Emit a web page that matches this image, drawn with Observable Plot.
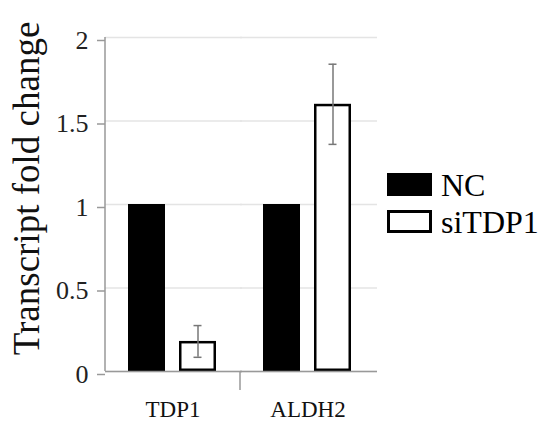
<!DOCTYPE html>
<html><head><meta charset="utf-8">
<script src="https://cdn.jsdelivr.net/npm/d3@7"></script>
<script src="https://cdn.jsdelivr.net/npm/@observablehq/plot@0.6"></script>
<style>
body{margin:0;background:#fff;}
#wrap{position:relative;width:542px;height:421px;font-family:"Liberation Serif","Times New Roman",serif;}
#legend{position:absolute;left:387px;top:166px;}
.row{display:flex;align-items:center;height:37px;}
.sw{width:45px;height:23px;box-sizing:border-box;margin-right:9px;}
.lab{font-size:32px;line-height:1;color:#000;}
</style></head><body><div id="wrap"></div>
<script>
const genes = ["TDP1", "ALDH2"];
const conditions = ["NC", "siTDP1"];
const ncValues = [1, 1];
const siValues = [0.18, 1.6];
const ncErrors = [0, 0];
const siErrors = [0.095, 0.24];
const yTicks = [0, 0.5, 1, 1.5, 2];
const yTickLabels = ["0", "0.5", "1", "1.5", "2"];
const yLabel = "Transcript fold change";
const condColors = ["#000000", "#ffffff"];

const data = [];
genes.forEach((g, i) => {
  data.push({gene: g, cond: conditions[0], value: ncValues[i], err: ncErrors[i]});
  data.push({gene: g, cond: conditions[1], value: siValues[i], err: siErrors[i]});
});
const errData = data.filter(d => d.err > 0);

const font = '"Liberation Serif","Times New Roman",serif';
const plot = Plot.plot({
  width: 542, height: 421,
  marginLeft: 105, marginRight: 167, marginTop: 37, marginBottom: 50,
  style: {fontFamily: font, background: "white", color: "#000"},
  fx: {domain: genes, padding: 0, label: null, axis: null},
  x: {domain: conditions, paddingInner: 0.2745, paddingOuter: 0.46, axis: null},
  y: {domain: [0, 2], axis: null},
  color: {domain: conditions, range: condColors},
  marks: [
    Plot.gridY(yTicks, {stroke: "#e4e4e4", strokeOpacity: 1, strokeWidth: 1.5, insetRight: -2}),
    Plot.barY(data, {fx: "gene", x: "cond", y: "value", fill: "cond", stroke: "#000", strokeWidth: 2.5, inset: 1.25}),
    Plot.ruleX(errData, {fx: "gene", x: "cond", y1: d => d.value - d.err, y2: d => d.value + d.err, stroke: "#777", strokeWidth: 1.5}),
    Plot.tickY(errData, {fx: "gene", x: "cond", y: d => d.value + d.err, stroke: "#777", strokeWidth: 1.5, insetLeft: 14.5, insetRight: 14.5}),
    Plot.tickY(errData, {fx: "gene", x: "cond", y: d => d.value - d.err, stroke: "#777", strokeWidth: 1.5, insetLeft: 14.5, insetRight: 14.5}),
    Plot.ruleY([0], {stroke: "#999", strokeWidth: 1.5, insetRight: -2}),
    Plot.axisY(yTicks, {tickFormat: d => yTickLabels[yTicks.indexOf(d)], fontSize: 26, tickSize: 8, tickPadding: 9, stroke: "#999", strokeWidth: 1.5, fill: "#222", dy: 3, label: null}),
    Plot.text([yLabel], {frameAnchor: "left", textAnchor: "middle", lineAnchor: "middle", rotate: -90, dx: -78, dy: -16, fontSize: 37, fill: "#111", facetAnchor: "left"}),
    Plot.axisFx({anchor: "bottom", tickSize: 0, tickPadding: 29, fontSize: 23, fill: "#111", label: null})
  ]
});

const fxs = plot.scale("fx");
const ys = plot.scale("y");
const svg = d3.select(plot);
const x0 = fxs.apply(genes[0]);
svg.append("line")
  .attr("x1", x0).attr("x2", x0)
  .attr("y1", ys.apply(2)).attr("y2", ys.apply(0))
  .attr("stroke", "#999").attr("stroke-width", 1.5);
const xb = fxs.apply(genes[1]);
svg.append("line")
  .attr("x1", xb).attr("x2", xb)
  .attr("y1", ys.apply(0)).attr("y2", ys.apply(0) + 19)
  .attr("stroke", "#999").attr("stroke-width", 1.5);

const wrap = document.getElementById("wrap");
wrap.appendChild(plot);

const legend = document.createElement("div");
legend.id = "legend";
conditions.forEach((c, i) => {
  const row = document.createElement("div");
  row.className = "row";
  const sw = document.createElement("div");
  sw.className = "sw";
  sw.style.background = condColors[i];
  sw.style.border = "3px solid #000";
  const lab = document.createElement("span");
  lab.className = "lab";
  lab.textContent = c;
  row.appendChild(sw); row.appendChild(lab);
  legend.appendChild(row);
});
wrap.appendChild(legend);
</script></body></html>
